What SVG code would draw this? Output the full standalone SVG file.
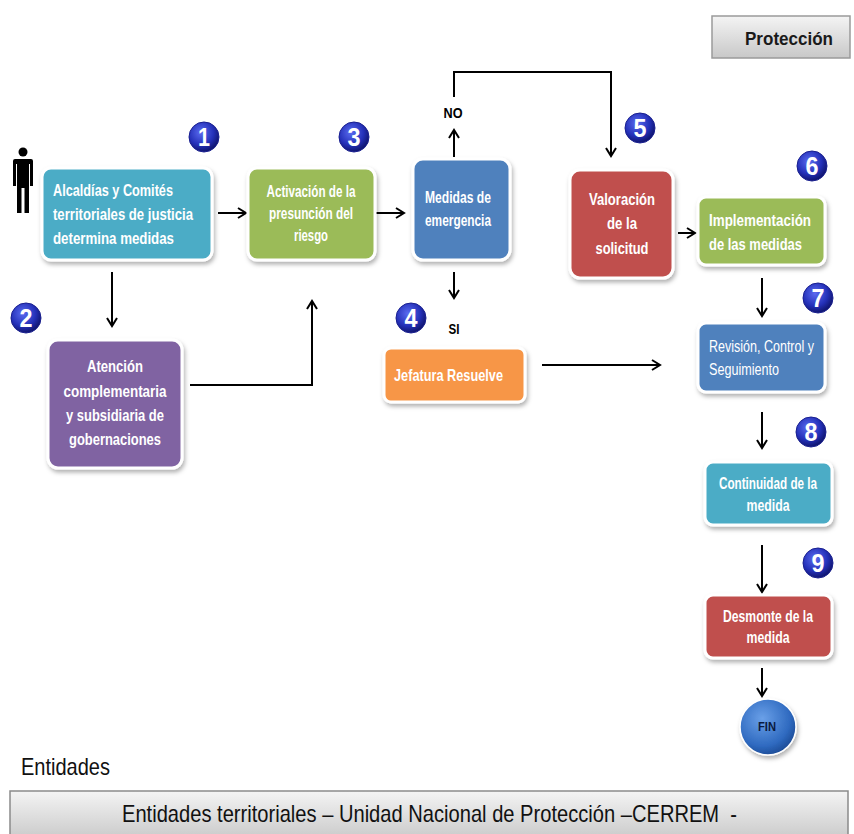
<svg xmlns="http://www.w3.org/2000/svg" width="854" height="834" viewBox="0 0 854 834">
<style>
.bx{stroke:#ffffff;stroke-width:3;filter:url(#sh)}
.t{font-family:"Liberation Sans Narrow","Liberation Sans",Arial,sans-serif;font-weight:bold;font-size:17px;fill:#ffffff}
.tn{font-family:"Liberation Sans Narrow","Liberation Sans",Arial,sans-serif;font-size:16px;fill:#ffffff}
.bd text{font-family:"Liberation Sans","DejaVu Sans",sans-serif;font-weight:bold;font-size:26px;fill:#ffffff;text-anchor:middle}
.lbl{font-family:"Liberation Sans Narrow","Liberation Sans",Arial,sans-serif;font-weight:bold;font-size:15px;fill:#000000}
.cn{fill:none;stroke:#000000;stroke-width:2;marker-end:url(#ah)}
</style>
<defs>
<filter id="sh" x="-10%" y="-10%" width="125%" height="130%">
<feDropShadow dx="1.5" dy="3" stdDeviation="2" flood-color="#000000" flood-opacity="0.3"/>
</filter>
<radialGradient id="bg" cx="0.4" cy="0.35" r="0.7">
<stop offset="0" stop-color="#5a6cf0"/>
<stop offset="0.6" stop-color="#2430b8"/>
<stop offset="1" stop-color="#0c1060"/>
</radialGradient>
<radialGradient id="fg" cx="0.4" cy="0.35" r="0.7">
<stop offset="0" stop-color="#6aa0e8"/>
<stop offset="0.7" stop-color="#2f6ac0"/>
<stop offset="1" stop-color="#1a4790"/>
</radialGradient>
<linearGradient id="gg" x1="0" y1="0" x2="0" y2="1">
<stop offset="0" stop-color="#f4f4f4"/>
<stop offset="0.5" stop-color="#dedede"/>
<stop offset="1" stop-color="#c8c8c8"/>
</linearGradient>
<marker id="ah" viewBox="-10 -6 12 12" refX="0" refY="0" markerWidth="12" markerHeight="12" markerUnits="userSpaceOnUse" orient="auto">
<path d="M-8,-5 L0,0 L-8,5" fill="none" stroke="#000000" stroke-width="2"/>
</marker>
<g id="badge">
<circle r="16" fill="#ffffff" opacity="0.6"/>
<circle r="15" fill="url(#bg)" stroke="#1a2090" stroke-width="1"/>
</g>
</defs>
<rect width="854" height="834" fill="#ffffff"/>

<g id="proteccion">
<rect x="712" y="16" width="138" height="42" fill="url(#gg)" stroke="#9a9a9a" stroke-width="1.5"/>
<text x="789" y="45" text-anchor="middle" font-family="Liberation Sans Narrow,Liberation Sans,Arial,sans-serif" font-weight="bold" font-size="19" fill="#1a1a1a" textLength="88" lengthAdjust="spacingAndGlyphs">Protección</text>
</g>

<g id="persona" fill="#000000">
<circle cx="23" cy="152" r="4.5"/>
<path d="M15,159 H31 Q33,159 33,161 V186 H30 V164 H29 V213 H24.5 V188 H21.5 V213 H17 V164 H16 V186 H13 V161 Q13,159 15,159 Z"/>
</g>

<g id="connectors">
<line class="cn" x1="218" y1="213" x2="246" y2="213"/>
<line class="cn" x1="376" y1="213" x2="404" y2="213"/>
<line class="cn" x1="112" y1="272" x2="112" y2="326"/>
<path class="cn" d="M190,385 H312 V301"/>
<line class="cn" x1="454" y1="157" x2="454" y2="130"/>
<path class="cn" d="M454,97 V72 H611 V156"/>
<line class="cn" x1="454" y1="272" x2="454" y2="298"/>
<line class="cn" x1="678" y1="233" x2="695" y2="233"/>
<line class="cn" x1="762" y1="278" x2="762" y2="316"/>
<line class="cn" x1="542" y1="365" x2="660" y2="365"/>
<line class="cn" x1="762" y1="412" x2="762" y2="448"/>
<line class="cn" x1="762" y1="545" x2="762" y2="592"/>
<line class="cn" x1="762" y1="668" x2="762" y2="696"/>
</g>
<text class="lbl" x="453" y="118" text-anchor="middle" textLength="19" lengthAdjust="spacingAndGlyphs">NO</text>
<text class="lbl" x="454" y="334" text-anchor="middle" textLength="11" lengthAdjust="spacingAndGlyphs">SI</text>

<g id="n1">
<rect class="bx" x="42" y="168" width="170" height="92" rx="9" fill="#4bacc6"/>
<text class="t" x="53" y="196" textLength="120" lengthAdjust="spacingAndGlyphs">Alcaldías y Comités</text>
<text class="t" x="53" y="220" textLength="140" lengthAdjust="spacingAndGlyphs">territoriales de justicia</text>
<text class="t" x="53" y="244" textLength="121" lengthAdjust="spacingAndGlyphs">determina medidas</text>
</g>

<g id="n3">
<rect class="bx" x="248" y="168" width="127" height="92" rx="9" fill="#9bbb59"/>
<text class="t" x="311" y="197" text-anchor="middle" font-size="16" textLength="89" lengthAdjust="spacingAndGlyphs">Activación de la</text>
<text class="t" x="311" y="219" text-anchor="middle" font-size="16" textLength="84" lengthAdjust="spacingAndGlyphs">presunción del</text>
<text class="t" x="311" y="241" text-anchor="middle" font-size="16" textLength="34" lengthAdjust="spacingAndGlyphs">riesgo</text>
</g>

<g id="n2">
<rect class="bx" x="48" y="340" width="134" height="128" rx="10" fill="#8064a2"/>
<text class="t" x="115" y="372" text-anchor="middle" textLength="56" lengthAdjust="spacingAndGlyphs">Atención</text>
<text class="t" x="115" y="397" text-anchor="middle" textLength="103" lengthAdjust="spacingAndGlyphs">complementaria</text>
<text class="t" x="115" y="421" text-anchor="middle" textLength="98" lengthAdjust="spacingAndGlyphs">y subsidiaria de</text>
<text class="t" x="115" y="445" text-anchor="middle" textLength="92" lengthAdjust="spacingAndGlyphs">gobernaciones</text>
</g>

<g id="nMedidas">
<rect class="bx" x="413" y="159" width="97" height="101" rx="10" fill="#4f81bd"/>
<text class="t" x="425" y="203" font-size="16" textLength="66" lengthAdjust="spacingAndGlyphs">Medidas de</text>
<text class="t" x="425" y="226" font-size="16" textLength="66" lengthAdjust="spacingAndGlyphs">emergencia</text>
</g>

<g id="n4">
<rect class="bx" x="384" y="348" width="141" height="54" rx="7" fill="#f79646"/>
<text class="t" x="394" y="381" textLength="109" lengthAdjust="spacingAndGlyphs">Jefatura Resuelve</text>
</g>

<g id="n5">
<rect class="bx" x="570" y="170" width="103" height="108" rx="10" fill="#c0504d"/>
<text class="t" x="622" y="205" text-anchor="middle" textLength="66" lengthAdjust="spacingAndGlyphs">Valoración</text>
<text class="t" x="622" y="229" text-anchor="middle" textLength="30" lengthAdjust="spacingAndGlyphs">de la</text>
<text class="t" x="622" y="254" text-anchor="middle" textLength="53" lengthAdjust="spacingAndGlyphs">solicitud</text>
</g>

<g id="n6">
<rect class="bx" x="698" y="197" width="127" height="68" rx="8" fill="#9bbb59"/>
<text class="t" x="709" y="226" textLength="102" lengthAdjust="spacingAndGlyphs">Implementación</text>
<text class="t" x="709" y="250" textLength="93" lengthAdjust="spacingAndGlyphs">de las medidas</text>
</g>

<g id="n7">
<rect class="bx" x="698" y="323" width="127" height="69" rx="8" fill="#4f81bd"/>
<text class="tn" x="709" y="352" textLength="105" lengthAdjust="spacingAndGlyphs">Revisión, Control y</text>
<text class="tn" x="709" y="375" textLength="70" lengthAdjust="spacingAndGlyphs">Seguimiento</text>
</g>

<g id="n8">
<rect class="bx" x="705" y="462" width="127" height="63" rx="8" fill="#4bacc6"/>
<text class="t" x="768" y="489" text-anchor="middle" font-size="14" textLength="98" lengthAdjust="spacingAndGlyphs">Continuidad de la</text>
<text class="t" x="768" y="511" text-anchor="middle" font-size="14" textLength="43" lengthAdjust="spacingAndGlyphs">medida</text>
</g>

<g id="n9">
<rect class="bx" x="705" y="595" width="127" height="63" rx="8" fill="#c0504d"/>
<text class="t" x="768" y="622" text-anchor="middle" font-size="14" textLength="90" lengthAdjust="spacingAndGlyphs">Desmonte de la</text>
<text class="t" x="768" y="643" text-anchor="middle" font-size="14" textLength="43" lengthAdjust="spacingAndGlyphs">medida</text>
</g>

<g id="fin">
<circle cx="768" cy="727" r="28" fill="url(#fg)" stroke="#ffffff" stroke-width="1.5" filter="url(#sh)"/>
<text x="767" y="731" text-anchor="middle" font-family="Liberation Sans Narrow,Liberation Sans,Arial,sans-serif" font-weight="bold" font-size="12" fill="#0a1a40" textLength="18" lengthAdjust="spacingAndGlyphs">FIN</text>
</g>

<g id="badges" class="bd">
<g id="b1" transform="translate(204,137)"><use href="#badge"/><text y="9" textLength="12" lengthAdjust="spacingAndGlyphs">1</text></g>
<g id="b2" transform="translate(26,318)"><use href="#badge"/><text y="9" textLength="13" lengthAdjust="spacingAndGlyphs">2</text></g>
<g id="b3" transform="translate(354,137)"><use href="#badge"/><text y="9" textLength="13" lengthAdjust="spacingAndGlyphs">3</text></g>
<g id="b4" transform="translate(411,318)"><use href="#badge"/><text y="9" textLength="13" lengthAdjust="spacingAndGlyphs">4</text></g>
<g id="b5" transform="translate(640,128)"><use href="#badge"/><text y="9" textLength="13" lengthAdjust="spacingAndGlyphs">5</text></g>
<g id="b6" transform="translate(812,166)"><use href="#badge"/><text y="9" textLength="13" lengthAdjust="spacingAndGlyphs">6</text></g>
<g id="b7" transform="translate(818,298)"><use href="#badge"/><text y="9" textLength="13" lengthAdjust="spacingAndGlyphs">7</text></g>
<g id="b8" transform="translate(811,432)"><use href="#badge"/><text y="9" textLength="13" lengthAdjust="spacingAndGlyphs">8</text></g>
<g id="b9" transform="translate(818,563)"><use href="#badge"/><text y="9" textLength="13" lengthAdjust="spacingAndGlyphs">9</text></g>
</g>

<g id="entidades">
<text x="21" y="775" font-family="Liberation Sans Narrow,Liberation Sans,Arial,sans-serif" font-size="24" fill="#111111" textLength="89" lengthAdjust="spacingAndGlyphs">Entidades</text>
<rect x="10" y="791" width="838" height="50" fill="url(#gg)" stroke="#8a8a8a" stroke-width="1.5"/>
<text x="122" y="822" font-family="Liberation Sans Narrow,Liberation Sans,Arial,sans-serif" font-size="24" fill="#111111" textLength="615" lengthAdjust="spacingAndGlyphs" xml:space="preserve">Entidades territoriales – Unidad Nacional de Protección –CERREM  -</text>
</g>
</svg>
